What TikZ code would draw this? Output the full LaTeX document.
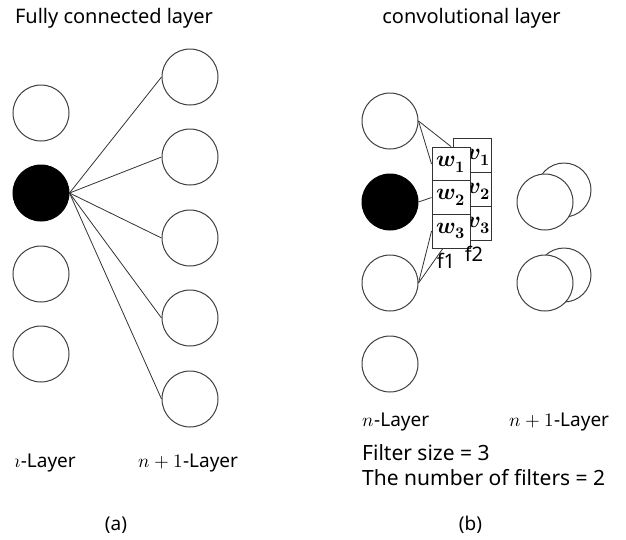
\documentclass[tikz,border=0pt]{standalone}
\usepackage{fontspec}
\usepackage{unicode-math}
\setmainfont{Noto Sans}
\setmathfont{Latin Modern Math}
\usetikzlibrary{calc}
\begin{document}
\begin{tikzpicture}[x=1pt,y=-1pt,
  neuron/.style={circle,draw=black!75,line width=1pt,minimum size=56pt,inner sep=0pt,fill=white},
  active/.style={neuron,fill=black,draw=black},
  link/.style={draw=black!80,line width=0.8pt},
  cell/.style={rectangle,draw=black!80,line width=0.9pt,minimum width=38pt,minimum height=34pt,inner sep=0pt,fill=white,font=\fontsize{23}{26}\selectfont},
  celltext/.style={inner sep=0pt,font=\fontsize{23}{26}\selectfont},
  lbl/.style={font=\fontsize{19}{22}\selectfont,inner sep=0pt},
  note/.style={font=\fontsize{21}{24}\selectfont,inner sep=0pt},
  ttl/.style={font=\fontsize{20}{24}\selectfont,inner sep=0pt}]
\useasboundingbox (0,0) rectangle (626,539);

% ---------- (a) fully connected ----------
\node[ttl] (ta) at (114,18) {Fully connected layer};
\node[neuron] (L1) at (41,113) {};
\node[active] (L2) at (41,193) {};
\node[neuron] (L3) at (41,274) {};
\node[neuron] (L4) at (41,354) {};
\node[neuron] (R1) at (190,77) {};
\node[neuron] (R2) at (190,157) {};
\node[neuron] (R3) at (190,238) {};
\node[neuron] (R4) at (190,318) {};
\node[neuron] (R5) at (190,399) {};
\foreach \r in {R1,R2,R3,R4,R5} \draw[link] (L2.east) -- (\r.west);
\begin{scope}
\clip (15.5,440) rectangle (110,490);
\node[lbl,anchor=east] (na) at (76,463) {$n$-Layer};
\end{scope}
\node[lbl] (npa) at (188.5,463) {$n+1$-Layer};
\node[lbl] (capa) at (116,525) {(a)};

% ---------- (b) convolutional ----------
\node[ttl] (tb) at (471.5,18) {convolutional layer};
\node[neuron] (M1) at (390,121) {};
\node[active] (M2) at (390,202) {};
\node[neuron] (M3) at (390,283) {};
\node[neuron] (M4) at (390,364) {};
\node[neuron,minimum size=54pt] (B1) at (564,190) {};
\node[neuron] (F1) at (545,202) {};
\node[neuron,minimum size=54pt] (B2) at (564,275) {};
\node[neuron] (F2) at (545,283) {};

% filter 2 (behind)
\node[cell] (v1) at (472,155) {};
\node[cell] (v2) at (472,189.3) {};
\node[cell] (v3) at (472,223.6) {};
\node[celltext] (v1t) at (478.5,157) {$\symbfit{v}_{\symbf{1}}$};
\node[celltext] (v2t) at (478.5,191.3) {$\symbfit{v}_{\symbf{2}}$};
\node[celltext] (v3t) at (478.5,225.6) {$\symbfit{v}_{\symbf{3}}$};
% filter 1 (front)
\node[cell] (w1) at (451,164) {$\symbfit{w}_{\symbf{1}}$};
\node[cell] (w2) at (451,197.5) {$\symbfit{w}_{\symbf{2}}$};
\node[cell] (w3) at (451,231) {$\symbfit{w}_{\symbf{3}}$};

\draw[link] (M1.east) -- (w1.north);
\draw[link] (M1.east) -- (w1.west);
\draw[link] (M2.east) -- (w2.west);
\draw[link] (M3.east) -- (w3.west);
\draw[link] (M3.east) -- (w3.245);

\node[lbl,font=\fontsize{20}{22}\selectfont] (f1) at (446,261) {f1};
\node[lbl,font=\fontsize{20}{22}\selectfont] (f2) at (474,254) {f2};

\node[lbl] (nb) at (396,422) {$n$-Layer};
\node[lbl] (npb) at (559.5,422) {$n+1$-Layer};
\node[note,anchor=west] (fs) at (362,453) {Filter size = 3};
\node[note,anchor=west] (nf) at (362,478) {The number of filters = 2};
\node[lbl] (capb) at (470.5,525) {(b)};
\end{tikzpicture}
\end{document}
